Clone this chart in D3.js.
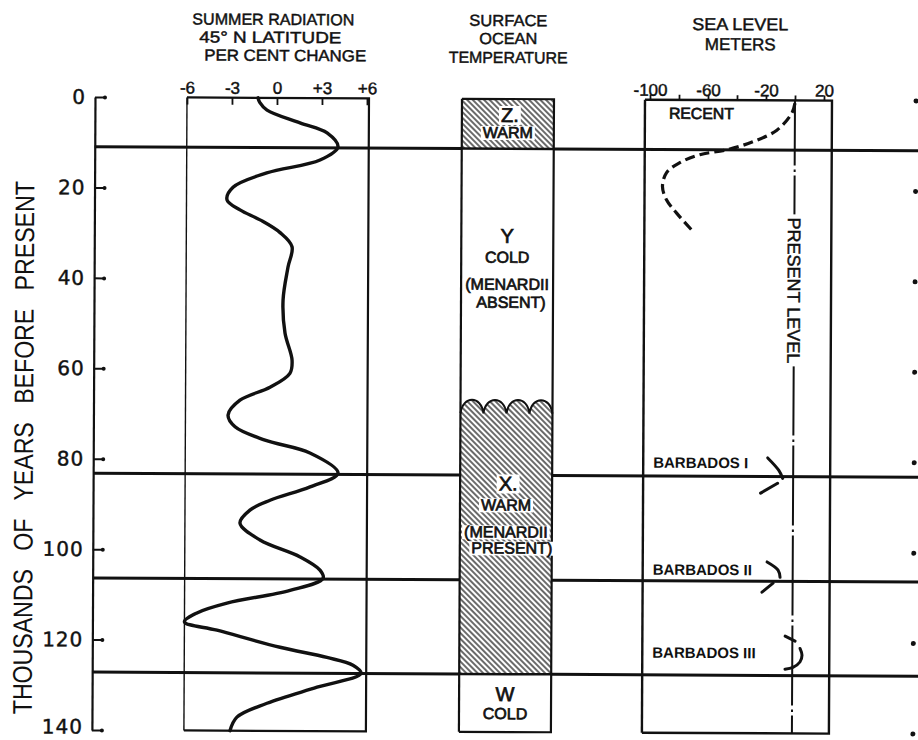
<!DOCTYPE html>
<html>
<head>
<meta charset="utf-8">
<script src="https://cdn.jsdelivr.net/npm/d3@7"></script>
<style>
  body { margin: 0; background: #fff; }
  svg { display: block; }
  text { font-family: "Liberation Sans", Arial, sans-serif; fill: #111; }
  text.lettered { stroke: #111; stroke-width: 0.45px; }
</style>
</head>
<body>
<script>
// ---- data -------------------------------------------------------------
// Time axis (thousands of years before present)
const kyrTicks = [0, 20, 40, 60, 80, 100, 120, 140];
// Stage boundaries drawn across the whole figure
const boundaryKyr = [11, 83.2, 106.4, 127.2];

// Summer radiation at 45°N, per cent change
const radTicks = [-6, -3, 0, 3, 6];
const radTickLabels = ["-6", "-3", "0", "+3", "+6"];
const radKyr = [0, 1, 2.7, 5.5, 7.7, 10.8, 13.7, 16.6, 19.8, 22.6, 24.8, 27.0, 29.8, 32.9, 37.4,
  44.7, 52.0, 58.0, 60.9, 64.0, 66.9, 70.2, 72.8, 75.7, 78.5, 82.9, 86.0, 89.0, 91.2, 94.1,
  97.8, 101.5, 104.4, 106.2, 108.9, 111.8, 114.0, 116.0, 117.8, 121.5, 123.7, 125.4, 127.2,
  130.3, 133.9, 137.0, 140];
const radPct = [-1.27, -1.15, -0.66, 1.54, 3.35, 4.08, 2.89, -0.66, -2.9, -3.3, -2.43, -1.09, 0.25, 1.05, 0.79,
  0.47, 0.61, 1.09, 0.95, -0.37, -2.37, -3.16, -2.69, -0.69, 2.31, 4.19, 2.33, -0.33, -1.67, -2.33,
  -0.99, 1.69, 3.02, 3.23, 1.03, -3.17, -5.17, -6.0, -3.83, 0.38, 3.51, 5.25, 5.79,
  2.86, -0.47, -2.47, -2.93];

// Surface ocean temperature stages
const zoneNames = ["Z", "Y", "X", "W"];
const zoneTop = [0, 11, 68, 127.2];
const zoneBottom = [11, 68, 127.2, 140];
const zoneWarm = [true, false, true, false];
const zoneLabels = [
  ["Z.", "WARM"],
  ["Y", "COLD", "(MENARDII", "ABSENT)"],
  ["X.", "WARM", "(MENARDII", "PRESENT)"],
  ["W", "COLD"]
];

// Sea level, meters
const seaTicks = [-100, -80, -60, -40, -20, 0, 20];
const seaTickLabels = [-100, -60, -20, 20];
const recentKyr = [0.6, 2.8, 6.6, 9.2, 11.0, 12.1, 13.9, 16.1, 19.2, 22.1, 25.0, 29.4];
const recentLevel = [0, -2.1, -12.4, -29, -46.9, -65.5, -79.3, -88.3, -91.1, -88.3, -81.4, -69];

// Barbados reef terraces: each stand drawn as short strokes
const barbadosNames = ["BARBADOS I", "BARBADOS II", "BARBADOS III"];
const barbadosKyr = [
  [[79.1, 81.8, 83.6], [84.7, 86.9]],
  [[102.1, 103.9, 105.5], [106.8, 108.8]],
  [[118.5, 119.6], [121.2, 122.7, 124.2, 125.4, 125.8]]
];
const barbadosLevel = [
  [[-17.6, -10.0, -7.2], [-10.7, -22.4]],
  [[-17.7, -10.1, -8.7], [-13.5, -21.1]],
  [[-5.0, 1.9], [5.3, 6.7, 5.3, 0.5, -5.0]]
];

// ---- layout -----------------------------------------------------------
const W = 918, H = 740;
const ink = "#111";
const svg = d3.select("body").append("svg").attr("width", W).attr("height", H);

const defs = svg.append("defs");
const pat = defs.append("pattern")
  .attr("id", "hatch").attr("patternUnits", "userSpaceOnUse")
  .attr("width", 4).attr("height", 8)
  .attr("patternTransform", "rotate(-45)");
pat.append("line").attr("x1", 1).attr("y1", 0).attr("x2", 1).attr("y2", 8)
  .attr("stroke", ink).attr("stroke-width", 1.25);

// the sheet sits very slightly turned
const g = svg.append("g").attr("transform", "rotate(0.28 95 97)");

const y = d3.scaleLinear().domain([0, 140]).range([97, 730]);
const xRad = d3.scaleLinear().domain([-6, 6]).range([187, 367]);
const xSea = d3.scaleLinear().domain([-100, 20]).range([650, 824]);
const oceanL = 462, oceanR = 554, oceanC = (oceanL + oceanR) / 2;
const axisX = 95, rightEdge = 922;

// ---- ocean temperature hatching (under everything) ----
const waveTroughY = y(68) + 7;
function waveTopPath() {
  const n = 4, w = (oceanR - oceanL) / n;
  let p = `M${oceanL},${waveTroughY}`;
  for (let i = 0; i < n; i++) {
    const x0 = oceanL + i * w;
    p += ` C${x0 + w * 0.1},${waveTroughY - 18} ${x0 + w * 0.9},${waveTroughY - 18} ${x0 + w},${waveTroughY}`;
  }
  return p;
}
zoneNames.forEach((z, i) => {
  if (!zoneWarm[i]) return;
  if (i === 2) {
    g.append("path")
      .attr("d", waveTopPath() + ` L${oceanR},${y(zoneBottom[i])} L${oceanL},${y(zoneBottom[i])} Z`)
      .attr("fill", "url(#hatch)");
  } else {
    g.append("rect")
      .attr("x", oceanL).attr("y", y(zoneTop[i]))
      .attr("width", oceanR - oceanL).attr("height", y(zoneBottom[i]) - y(zoneTop[i]))
      .attr("fill", "url(#hatch)");
  }
});
g.append("path").attr("d", waveTopPath())
  .attr("fill", "none").attr("stroke", ink).attr("stroke-width", 2);

// ---- stage boundary lines ----
boundaryKyr.forEach(b => {
  const yy = y(b);
  g.append("line").attr("x1", axisX).attr("x2", oceanL).attr("y1", yy).attr("y2", yy)
    .attr("stroke", ink).attr("stroke-width", 3);
  g.append("line").attr("x1", oceanR).attr("x2", rightEdge).attr("y1", yy).attr("y2", yy)
    .attr("stroke", ink).attr("stroke-width", 3);
});
// zone edges that fall inside the ocean column
[zoneBottom[0], zoneTop[3]].forEach(k => {
  g.append("line").attr("x1", oceanL).attr("x2", oceanR).attr("y1", y(k)).attr("y2", y(k))
    .attr("stroke", ink).attr("stroke-width", 2.5);
});

// ---- panel frames ----
function frame(x0, x1, wLeft, wOther) {
  const y0 = y(0), y1 = y(140);
  g.append("line").attr("x1", x0).attr("x2", x0).attr("y1", y0).attr("y2", y1)
    .attr("stroke", ink).attr("stroke-width", wLeft);
  g.append("path").attr("d", `M${x0},${y0} L${x1},${y0} L${x1},${y1} L${x0},${y1}`)
    .attr("fill", "none").attr("stroke", ink).attr("stroke-width", wOther);
}
frame(xRad(-6), xRad(6) + 2, 1.4, 2.2);
frame(oceanL, oceanR, 2.2, 2.2);
frame(xSea(-100) - 5, xSea(20) + 8, 2.4, 2.4);

// ---- time axis ----
const yAxis = g.append("g").attr("transform", `translate(${axisX},0)`)
  .call(d3.axisLeft(y).tickValues(kyrTicks).tickSize(-10).tickSizeOuter(0).tickPadding(9));
yAxis.select(".domain").attr("stroke", ink).attr("stroke-width", 2.2);
yAxis.selectAll(".tick line").attr("stroke", ink).attr("stroke-width", 2);
yAxis.selectAll(".tick").append("circle").attr("cx", 10).attr("r", 2).attr("fill", ink);
yAxis.selectAll(".tick text").attr("fill", ink).attr("class", "lettered")
  .attr("dy", d => d === 140 ? "0.16em" : "0.32em")
  .style("font-family", "'DejaVu Sans', sans-serif").style("font-size", "20px")
  .attr("letter-spacing", 1);

g.append("text")
  .attr("transform", "translate(25,448) rotate(-90)")
  .attr("text-anchor", "middle").attr("dy", "0.36em")
  .attr("textLength", 533).attr("lengthAdjust", "spacingAndGlyphs")
  .style("font-size", "27px").style("word-spacing", "14px")
  .text("THOUSANDS OF YEARS BEFORE PRESENT");

// ---- summer radiation ----
const radAxis = g.append("g").attr("transform", `translate(0,${y(0)})`)
  .call(d3.axisTop(xRad).tickValues(radTicks).tickFormat((d, i) => radTickLabels[i])
    .tickSize(-7).tickPadding(4));
radAxis.select(".domain").remove();
radAxis.selectAll(".tick line").attr("stroke", ink).attr("stroke-width", 1.8);
radAxis.selectAll(".tick text").attr("fill", ink).attr("class", "lettered")
  .style("font-family", "'Liberation Sans', Arial, sans-serif").style("font-size", "17px");

const radLine = d3.line()
  .x((d, i) => xRad(radPct[i])).y(d => y(d))
  .curve(d3.curveCatmullRom.alpha(0.5));
g.append("path").datum(radKyr).attr("d", radLine)
  .attr("fill", "none").attr("stroke", ink).attr("stroke-width", 3.4)
  .attr("stroke-linejoin", "round").attr("stroke-linecap", "round");

const radTitle = [["SUMMER RADIATION", 192, 24], ["45° N LATITUDE", 199, 42], ["PER CENT CHANGE", 204, 60]];
radTitle.forEach(t => g.append("text").attr("x", t[1]).attr("y", t[2]).attr("class", "lettered")
  .attr("textLength", t[0].length > 14 ? 162 : 142).attr("lengthAdjust", "spacingAndGlyphs")
  .style("font-size", "16px").text(t[0]));

// ---- surface ocean temperature ----
[["SURFACE", 24, 78], ["OCEAN", 42, 58], ["TEMPERATURE", 61, 119]].forEach(t =>
  g.append("text").attr("x", oceanC).attr("y", t[1]).attr("text-anchor", "middle")
    .attr("class", "lettered").attr("textLength", t[2]).attr("lengthAdjust", "spacingAndGlyphs")
    .style("font-size", "16px").text(t[0]));

// baseline offsets (px) of each label line from the top of its stage
const zoneLabelDy = [[23, 39], [94, 114, 141, 159], [84, 104, 131, 147], [27, 45]];
const zoneLabelDx = [[2, 0], [0, 0, 0, 4], [2, 0, 0, 6], [0, 0]];
zoneNames.forEach((z, i) => {
  const top = i === 2 ? waveTroughY - 7 : y(zoneTop[i]);
  zoneLabels[i].forEach((txt, j) => {
    const big = j === 0;
    const t = g.append("text")
      .attr("x", oceanC + zoneLabelDx[i][j]).attr("y", top + zoneLabelDy[i][j])
      .attr("text-anchor", "middle").attr("class", "lettered")
      .style("font-size", big ? "20px" : "16px")
      .style("stroke-width", "0.7px")
      .text(txt);
    if (zoneWarm[i]) {
      const bb = t.node().getBBox();
      g.insert("rect", () => t.node())
        .attr("x", bb.x - 2).attr("y", bb.y + 2)
        .attr("width", bb.width + 4).attr("height", bb.height - 3)
        .attr("fill", "#fff");
    }
  });
});

// ---- sea level ----
[["SEA LEVEL", 27, 96], ["METERS", 47, 71]].forEach(t =>
  g.append("text").attr("x", 740).attr("y", t[1]).attr("text-anchor", "middle")
    .attr("class", "lettered").attr("textLength", t[2]).attr("lengthAdjust", "spacingAndGlyphs")
    .style("font-size", "17px").text(t[0]));

const seaAxis = g.append("g").attr("transform", `translate(0,${y(0)})`)
  .call(d3.axisTop(xSea).tickValues(seaTicks)
    .tickFormat(d => seaTickLabels.includes(d) ? String(d) : "")
    .tickSize(5).tickPadding(-1));
seaAxis.select(".domain").remove();
seaAxis.selectAll(".tick line").attr("stroke", ink).attr("stroke-width", 1.8);
seaAxis.selectAll(".tick text").attr("fill", ink).attr("class", "lettered")
  .style("font-family", "'Liberation Sans', Arial, sans-serif").style("font-size", "17px");

// present level: dash-dot line with its label
g.append("line")
  .attr("x1", xSea(0)).attr("x2", xSea(0)).attr("y1", y(0)).attr("y2", y(140))
  .attr("stroke", ink).attr("stroke-width", 2)
  .attr("stroke-dasharray", "80,4,2.5,3.5").attr("stroke-dashoffset", 15);
const pl = g.append("g").attr("transform", `translate(${xSea(0)},287) rotate(90)`);
pl.append("rect").attr("x", -76).attr("y", -10).attr("width", 152).attr("height", 20).attr("fill", "#fff");
pl.append("text").attr("text-anchor", "middle").attr("dy", "0.36em").attr("class", "lettered")
  .attr("textLength", 146).attr("lengthAdjust", "spacingAndGlyphs")
  .style("font-size", "18px").text("PRESENT LEVEL");

g.append("text").attr("x", 669).attr("y", 116).attr("class", "lettered")
  .attr("textLength", 65).attr("lengthAdjust", "spacingAndGlyphs")
  .style("font-size", "16px").style("stroke-width", "0.7px").text("RECENT");

const seaLine = d3.line().curve(d3.curveCatmullRom.alpha(0.5));
g.append("path")
  .attr("d", seaLine(recentKyr.map((k, i) => [xSea(recentLevel[i]), y(k)])))
  .attr("fill", "none").attr("stroke", ink).attr("stroke-width", 3.2)
  .attr("stroke-dasharray", "10,5");

const barbadosLabelY = [465, 572, 655];
barbadosNames.forEach((name, i) => {
  g.append("text").attr("x", 655).attr("y", barbadosLabelY[i])
    .style("font-size", "15px").style("font-weight", "bold").text(name);
  barbadosKyr[i].forEach((seg, s) => {
    g.append("path")
      .attr("d", seaLine(seg.map((k, j) => [xSea(barbadosLevel[i][s][j]), y(k)])))
      .attr("fill", "none").attr("stroke", ink).attr("stroke-width", 3)
      .attr("stroke-linecap", "round");
  });
});

// marks of the neighbouring panel's time axis at the right edge
g.selectAll(".edge-mark").data(kyrTicks).join("circle")
  .attr("class", "edge-mark").attr("cx", 916).attr("cy", d => y(d)).attr("r", 2.5)
  .attr("fill", ink);
</script>
</body>
</html>
